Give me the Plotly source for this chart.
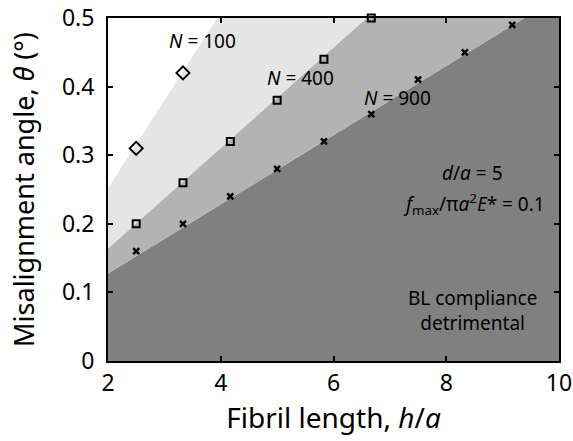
import plotly.graph_objects as go

# Region boundaries (theta at h=2 and h=10, extrapolated beyond the axis range)
bound_h = [2, 10]
n100_bound = [0.252, 1.276]
n400_bound = [0.164, 0.750]
n900_bound = [0.1275, 0.531]

# Marker data
n100_h = [2.5, 3.33]
n100_theta = [0.31, 0.42]
n400_h = [2.5, 3.33, 4.17, 5.0, 5.83, 6.67]
n400_theta = [0.20, 0.26, 0.32, 0.38, 0.44, 0.50]
n900_h = [2.5, 3.33, 4.17, 5.0, 5.83, 6.67, 7.5, 8.33, 9.17]
n900_theta = [0.16, 0.20, 0.24, 0.28, 0.32, 0.36, 0.41, 0.45, 0.49]

x_ticks = [2, 4, 6, 8, 10]
y_ticks = [0, 0.1, 0.2, 0.3, 0.4, 0.5]
y_ticklabels = ["0", "0.1", "0.2", "0.3", "0.4", "0.5"]

FONT = "Noto Sans"
fig = go.Figure()

fig.add_trace(go.Scatter(x=bound_h, y=n900_bound, mode="lines", line=dict(width=0),
                         fill="tozeroy", fillcolor="#808080", hoverinfo="skip"))
fig.add_trace(go.Scatter(x=bound_h, y=n400_bound, mode="lines", line=dict(width=0),
                         fill="tonexty", fillcolor="#b3b3b3", hoverinfo="skip"))
fig.add_trace(go.Scatter(x=bound_h, y=n100_bound, mode="lines", line=dict(width=0),
                         fill="tonexty", fillcolor="#e5e5e5", hoverinfo="skip"))

fig.add_trace(go.Scatter(x=n100_h, y=n100_theta, mode="markers", cliponaxis=False,
                         marker=dict(symbol="diamond-open", size=10, color="black",
                                     line=dict(width=2, color="black"))))
fig.add_trace(go.Scatter(x=n400_h, y=n400_theta, mode="markers", cliponaxis=False,
                         marker=dict(symbol="square-open", size=7, color="black",
                                     line=dict(width=2, color="black"))))
fig.add_trace(go.Scatter(x=n900_h, y=n900_theta, mode="markers", cliponaxis=False,
                         marker=dict(symbol="x-thin-open", size=6, color="black",
                                     line=dict(width=2.5, color="black"))))

ann_font = dict(family=FONT, size=19, color="black")
annotations = [
    dict(x=3.67, y=0.467, text="<i>N</i> = 100"),
    dict(x=5.41, y=0.413, text="<i>N</i> = 400"),
    dict(x=7.14, y=0.384, text="<i>N</i> = 900"),
    dict(x=8.47, y=0.274, text="<i>d</i>/<i>a</i> = 5"),
    dict(x=8.49, y=0.229, text="<i>f</i><sub>max</sub>/π<i>a</i><sup>2</sup><i>E</i>* = 0.1"),
    dict(x=8.47, y=0.074, text="BL compliance<br>detrimental"),
]
for a in annotations:
    fig.add_annotation(x=a["x"], y=a["y"], text=a["text"], showarrow=False,
                       font=ann_font, xanchor="center", yanchor="middle")

axis_common = dict(showgrid=False, zeroline=False, showline=True, linecolor="black",
                   linewidth=2, mirror="ticks", ticks="inside", ticklen=5,
                   tickwidth=1.5, tickcolor="black", automargin=False,
                   ticklabeloverflow="allow",
                   tickfont=dict(family=FONT, size=23, color="black"))
fig.update_xaxes(range=[2, 10], tickvals=x_ticks, ticktext=[str(v) for v in x_ticks],
                 title=dict(text="Fibril length, <i>h</i>/<i>a</i>",
                            font=dict(family=FONT, size=28, color="black"), standoff=7),
                 **axis_common)
fig.update_yaxes(range=[0, 0.5], tickvals=y_ticks, ticktext=y_ticklabels,
                 ticklabelstandoff=7,
                 title=dict(text="Misalignment angle, <i>θ</i> (°)",
                            font=dict(family=FONT, size=27, color="black"), standoff=19),
                 **axis_common)

fig.update_layout(width=573, height=441, margin=dict(l=108, r=14, t=18, b=80),
                  plot_bgcolor="white", paper_bgcolor="white", showlegend=False,
                  font=dict(family=FONT, color="black"))

fig.write_html("out.html")
